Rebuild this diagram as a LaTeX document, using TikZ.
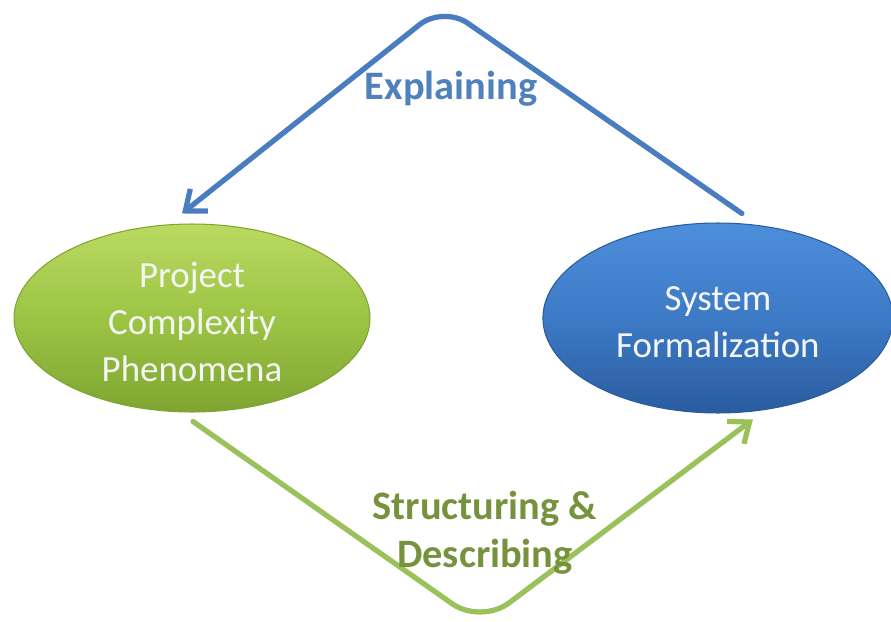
\documentclass[tikz,border=0pt]{standalone}
\usepackage{fontspec}
\setmainfont{Carlito}
\usepackage{tikz}
\usetikzlibrary{arrows.meta,shapes.geometric}
\usetikzlibrary{positioning}
\definecolor{phenlight}{HTML}{B9DA62}
\definecolor{phenmid}{HTML}{9CC444}
\definecolor{phendark}{HTML}{7FA531}
\definecolor{formlight}{HTML}{4D8EDB}
\definecolor{formmid}{HTML}{3D7AC6}
\definecolor{formdark}{HTML}{2A5C9F}
\definecolor{explline}{HTML}{4A7DBF}
\definecolor{expltext}{HTML}{4F81BD}
\definecolor{strline}{HTML}{9BC15A}
\definecolor{strtext}{HTML}{76923C}
\tikzset{
    blob/.style={
           ellipse,
           inner sep=0pt,
           line width=0.6pt,
           },
    phen/.style={
           blob,
           draw=phendark,
           minimum width=7.12cm,
           minimum height=3.76cm,
           top color=phenlight,
           bottom color=phendark,
           middle color=phenmid,
           },
    formal/.style={
           blob,
           draw=formdark,
           minimum width=7.0cm,
           minimum height=3.8cm,
           top color=formlight,
           bottom color=formdark,
           middle color=formmid,
           },
    blobtext/.style={
           align=center,
           text=white!92!gray,
           font=\fontsize{21}{26.5}\selectfont,
           },
    lbl/.style={
           align=center,
           font=\fontsize{23}{27.5}\selectfont\bfseries,
           },
    cycle/.style={
           line width=3pt,
           line cap=round,
           -{Straight Barb[length=10pt,width=16pt,line width=3pt]},
           },
}

\begin{document}
\begin{tikzpicture}[x=0.02cm,y=-0.02cm]
 \useasboundingbox (0,0) rectangle (891,621);

 \node[phen] (PCP) at (192,318) {};
 \node[formal,
 right of=PCP,
 node distance=10.52cm] (SYS) {};

 \node[blobtext] (PCPTXT) at ([yshift=-0.08cm]PCP.center) {Project\\Complexity\\Phenomena};
 \node[blobtext] (SYSTXT) at ([yshift=-0.08cm]SYS.center) {System\\Formalization};

 % upper loop, back to the phenomena
 \draw[cycle, explline, rounded corners=0.6cm]
   ([shift={(24,-9)}]SYS.north) -- (443,6) -- ([shift={(-10,-10)}]PCP.north);
 \node[lbl, text=expltext, anchor=base] (EXPL) at (451,100) {Explaining};

 % lower loop
 \draw[cycle, strline, rounded corners=0.7cm]
   ([shift={(1,9)}]PCP.south) -- (481,624) -- ([shift={(35,6)}]SYS.south);
 \node[lbl, text=strtext] (STR) at (485,533) {Structuring \&\\Describing};
\end{tikzpicture}
\end{document}
